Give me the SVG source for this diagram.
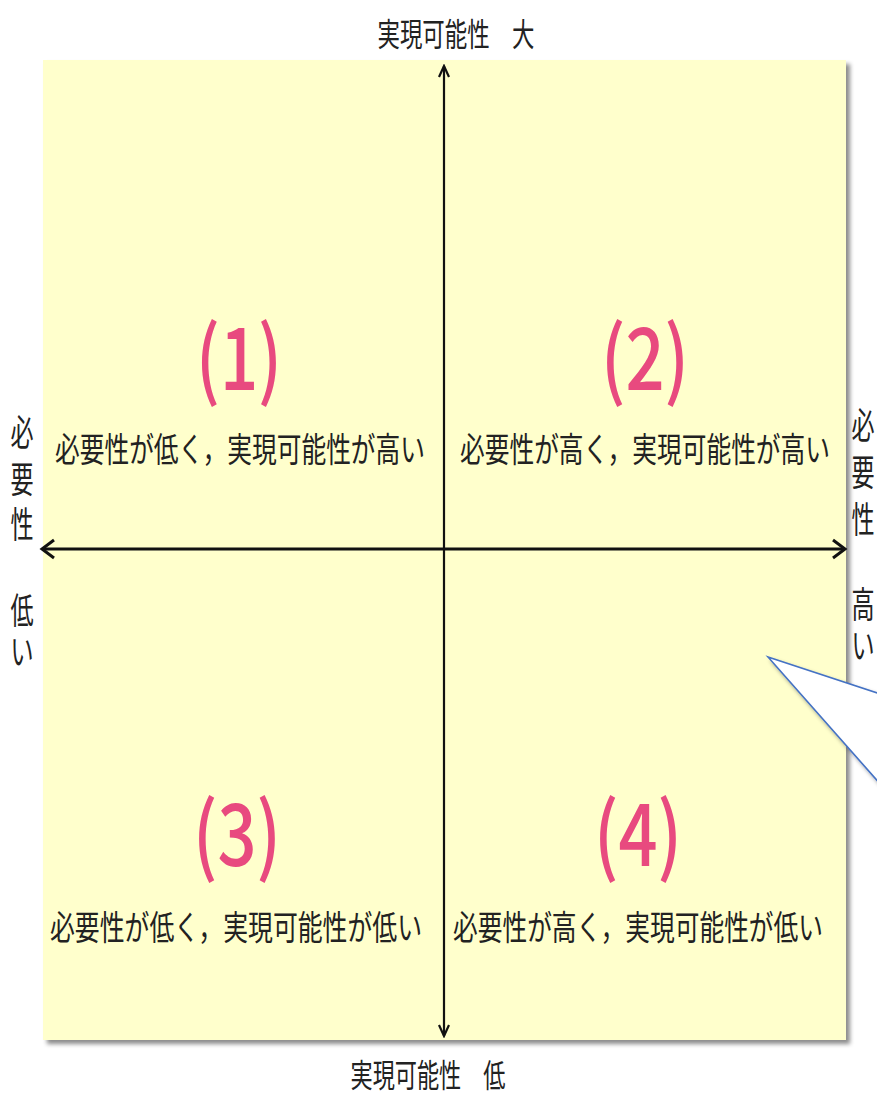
<svg xmlns="http://www.w3.org/2000/svg" width="877" height="1098" viewBox="0 0 877 1098">
  <style>
    .lbl { font-family: "Noto Sans CJK JP", "Noto Sans", sans-serif; fill: #222222; }
    .num { font-family: "Noto Sans CJK JP", "Noto Sans", sans-serif; fill: #E84A7F; font-weight: 500; }
    .axis { stroke: #111111; fill: none; }
  </style>
  <defs>
    <filter id="shadow" x="-5%" y="-5%" width="115%" height="115%">
      <feDropShadow dx="4" dy="4" stdDeviation="2" flood-color="#000000" flood-opacity="0.45"/>
    </filter>
    <marker id="arrowH" markerUnits="userSpaceOnUse" markerWidth="16" markerHeight="22" refX="13" refY="10" orient="auto-start-reverse" viewBox="0 0 16 20">
      <path d="M1,1 L13,10 L1,19" stroke="#111111" stroke-width="3" fill="none"/>
    </marker>
    <marker id="arrowV" markerUnits="userSpaceOnUse" markerWidth="14" markerHeight="14" refX="12" refY="6" orient="auto-start-reverse" viewBox="0 0 14 12">
      <path d="M1,1 L12,6 L1,11" stroke="#111111" stroke-width="2.2" fill="none"/>
    </marker>
  </defs>

  <g id="background">
    <rect x="43" y="60" width="803" height="980" fill="#FFFFCC" filter="url(#shadow)"/>
  </g>

  <g id="connectors">
    <line class="axis" x1="444" y1="1036" x2="444" y2="66" stroke-width="2.2" marker-start="url(#arrowV)" marker-end="url(#arrowV)"/>
    <line class="axis" x1="42" y1="549" x2="845" y2="549" stroke-width="3" marker-start="url(#arrowH)" marker-end="url(#arrowH)"/>
  </g>

  <g id="callout">
    <polygon points="768,657 905,702 905,812" fill="#FFFFFF" stroke="#4472C4" stroke-width="1.6" filter="url(#shadow)"/>
  </g>

  <g id="label-top">
    <text class="lbl" x="456" y="46" font-size="32" text-anchor="middle" textLength="157" lengthAdjust="spacingAndGlyphs">実現可能性　大</text>
  </g>
  <g id="label-bottom">
    <text class="lbl" x="428" y="1087" font-size="32" text-anchor="middle" textLength="155" lengthAdjust="spacingAndGlyphs">実現可能性　低</text>
  </g>

  <g id="label-left">
    <text class="lbl" font-size="36" text-anchor="middle" transform="translate(22,446) scale(0.64,1)">必</text>
    <text class="lbl" font-size="36" text-anchor="middle" transform="translate(22,493) scale(0.64,1)">要</text>
    <text class="lbl" font-size="36" text-anchor="middle" transform="translate(22,538) scale(0.64,1)">性</text>
    <text class="lbl" font-size="36" text-anchor="middle" transform="translate(22,624) scale(0.64,1)">低</text>
    <text class="lbl" font-size="36" text-anchor="middle" transform="translate(22,665) scale(0.64,1)">い</text>
  </g>

  <g id="label-right">
    <text class="lbl" font-size="36" text-anchor="middle" transform="translate(863,439) scale(0.64,1)">必</text>
    <text class="lbl" font-size="36" text-anchor="middle" transform="translate(863,486) scale(0.64,1)">要</text>
    <text class="lbl" font-size="36" text-anchor="middle" transform="translate(863,533) scale(0.64,1)">性</text>
    <text class="lbl" font-size="36" text-anchor="middle" transform="translate(863,618) scale(0.64,1)">高</text>
    <text class="lbl" font-size="36" text-anchor="middle" transform="translate(863,659) scale(0.64,1)">い</text>
  </g>

  <g id="q1">
    <text class="num" x="239" y="390" font-size="86" text-anchor="middle" textLength="86" lengthAdjust="spacingAndGlyphs">(1)</text>
    <text class="lbl" x="240" y="462" font-size="34" text-anchor="middle" textLength="370" lengthAdjust="spacingAndGlyphs">必要性が低く，実現可能性が高い</text>
  </g>
  <g id="q2">
    <text class="num" x="645" y="390" font-size="86" text-anchor="middle" textLength="88" lengthAdjust="spacingAndGlyphs">(2)</text>
    <text class="lbl" x="645" y="462" font-size="34" text-anchor="middle" textLength="370" lengthAdjust="spacingAndGlyphs">必要性が高く，実現可能性が高い</text>
  </g>
  <g id="q3">
    <text class="num" x="237" y="866" font-size="86" text-anchor="middle" textLength="88" lengthAdjust="spacingAndGlyphs">(3)</text>
    <text class="lbl" x="236" y="940" font-size="34" text-anchor="middle" textLength="372" lengthAdjust="spacingAndGlyphs">必要性が低く，実現可能性が低い</text>
  </g>
  <g id="q4">
    <text class="num" x="638" y="866" font-size="86" text-anchor="middle" textLength="88" lengthAdjust="spacingAndGlyphs">(4)</text>
    <text class="lbl" x="638" y="940" font-size="34" text-anchor="middle" textLength="370" lengthAdjust="spacingAndGlyphs">必要性が高く，実現可能性が低い</text>
  </g>
</svg>
